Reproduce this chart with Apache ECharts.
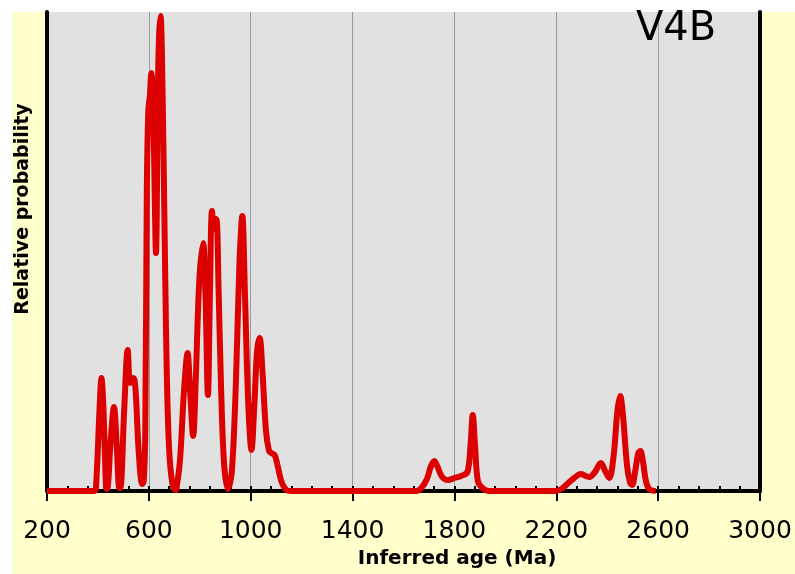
<!DOCTYPE html>
<html>
<head>
<meta charset="utf-8">
<script src="https://cdn.jsdelivr.net/npm/echarts@6/dist/echarts.min.js"></script>
<style>
  html, body { margin: 0; padding: 0; background: #fff; }
  #chart { width: 795px; height: 574px; }
</style>
</head>
<body>
<div id="chart"></div>
<script>
// ages (Ma) and relative probability
const ages = [
  200, 385, 392, 406, 414, 422, 432,
  436, 450, 463, 474, 484,
  488, 503, 517, 527, 540, 548, 560, 574,
  580, 586, 592, 598, 604, 610, 613, 617, 621, 625, 628, 631, 634, 637, 641, 646, 651, 658, 664, 671, 680, 692, 704,
  708, 722, 738, 752, 762, 774,
  784, 798, 813, 822, 832,
  840, 848, 856, 865, 874, 884, 896, 911,
  926, 942, 956, 967, 977, 990, 1003,
  1015, 1025, 1035, 1046, 1060, 1072, 1081, 1094, 1106, 1120, 1140, 1160,
  1650, 1670, 1692, 1708, 1721, 1734, 1752, 1774, 1800, 1826, 1851, 1863, 1872, 1881, 1892, 1910, 1937,
  2195, 2220, 2243, 2270, 2297, 2316, 2330, 2352, 2375, 2392, 2408, 2425, 2440, 2451, 2462, 2478, 2490, 2498,
  2510, 2522, 2530, 2540, 2552, 2565, 2590
]
const probability = [
  0, 0, 2, 80, 113, 80, 3,
  2, 50, 84, 45, 3,
  3, 80, 141, 108, 113, 100, 40, 7,
  10, 60, 300, 381, 395, 418, 412, 385, 330, 265, 238, 275, 375, 425, 460, 475, 440, 330, 220, 110, 40, 8, 1,
  2, 30, 100, 138, 100, 55,
  110, 210, 248, 200, 96,
  200, 280, 262, 272, 200, 100, 25, 2,
  20, 110, 230, 275, 200, 90, 41,
  90, 140, 153, 120, 60, 40, 38, 36, 25, 10, 1, 0,
  0, 3, 12, 25, 30, 24, 14, 11, 13, 15, 19, 45, 76, 45, 10, 3, 0,
  0, 2, 7, 13, 17, 15, 14, 19, 28, 20, 13, 35, 80, 95, 75, 25, 8, 6,
  20, 38, 40, 30, 10, 2, 0
]
const xMin = 200
const xMax = 3000
const majorStep = 400
const minorStep = 80

const chart = echarts.init(document.getElementById('chart'))

const option = {
  animation: false,
  backgroundColor: '#ffffff',
  grid: {
    left: 47, right: 35, top: 12, bottom: 83,
    outerBoundsMode: 'none',
    show: true, backgroundColor: '#e1e1e1', borderWidth: 0
  },
  graphic: [
    { type: 'rect', z: -10, shape: { x: 12, y: 12, width: 783, height: 562 }, style: { fill: '#ffffcc' } },
    {
      type: 'text', z: 100, x: 636, y: 30,
      style: { text: 'V4B', fontFamily: 'DejaVu Sans', fontSize: 40, fill: '#000', verticalAlign: 'middle' }
    },
    {
      type: 'text', z: 100, x: 457, y: 559,
      style: { text: 'Inferred age (Ma)', fontFamily: 'DejaVu Sans', fontWeight: 'bold', fontSize: 20, fill: '#000', align: 'center', verticalAlign: 'middle' }
    },
    {
      type: 'text', z: 100, x: 23, y: 209, rotation: Math.PI / 2,
      style: { text: 'Relative probability', fontFamily: 'DejaVu Sans', fontWeight: 'bold', fontSize: 19, fill: '#000', align: 'center', verticalAlign: 'middle' }
    }
  ],
  xAxis: [
    {
      type: 'value', position: 'bottom', min: xMin, max: xMax, interval: majorStep,
      axisLine: { show: true, lineStyle: { color: '#000', width: 4 } },
      axisTick: { show: true, inside: false, length: 10, lineStyle: { color: '#000', width: 2 } },
      axisLabel: { color: '#000', fontFamily: 'DejaVu Sans', fontSize: 25, margin: 28, formatter: v => String(v) },
      splitLine: { show: true, lineStyle: { color: '#999', width: 1 } }
    },
    {
      type: 'value', position: 'bottom', min: xMin, max: xMax, interval: minorStep,
      axisLine: { show: false },
      axisTick: { show: true, inside: true, length: 5, lineStyle: { color: '#000', width: 2 } },
      axisLabel: { show: false },
      splitLine: { show: false }
    }
  ],
  yAxis: [
    {
      type: 'value', min: 0, max: 479, position: 'left',
      axisLine: { show: true, lineStyle: { color: '#000', width: 4 } },
      axisTick: { show: false }, axisLabel: { show: false }, splitLine: { show: false }
    },
    {
      type: 'value', min: 0, max: 479, position: 'right',
      axisLine: { show: true, lineStyle: { color: '#000', width: 4 } },
      axisTick: { show: false }, axisLabel: { show: false }, splitLine: { show: false }
    }
  ],
  series: [
    {
      type: 'line',
      xAxisIndex: 0, yAxisIndex: 0,
      data: ages.map((a, i) => [a, probability[i]]),
      smooth: 0.35,
      showSymbol: false,
      lineStyle: { color: '#dc0000', width: 6 },
      z: 5
    }
  ]
}

chart.setOption(option)
</script>
</body>
</html>
